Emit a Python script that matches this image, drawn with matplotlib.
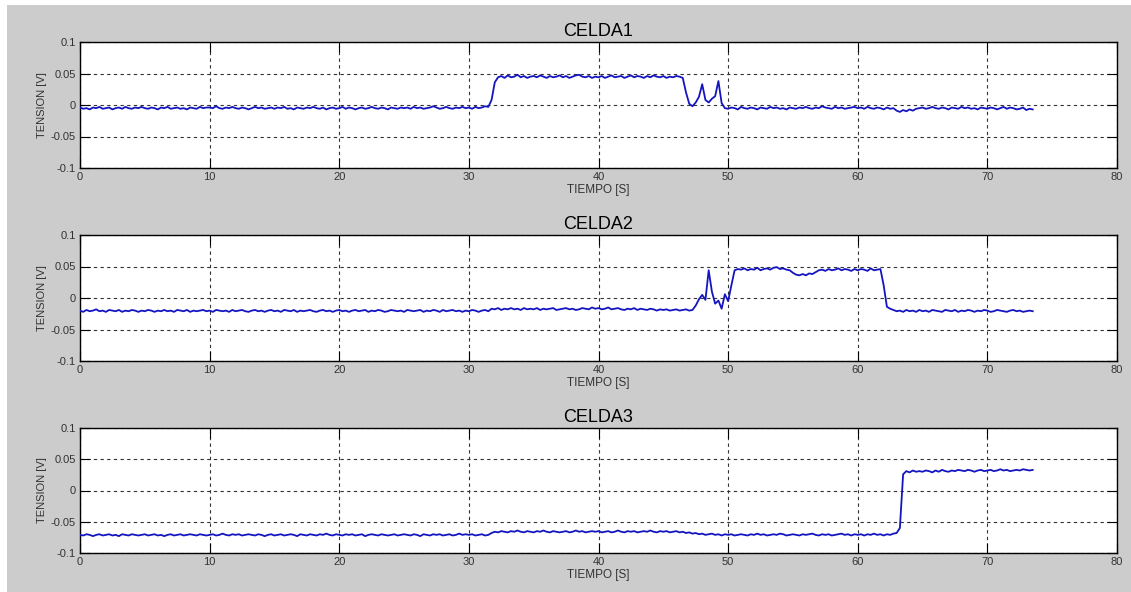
import numpy as np
import matplotlib
matplotlib.use('Agg')
from matplotlib import pyplot as plt
from matplotlib.patches import Rectangle

# tension per cell in mV, sampled every 0.25 s from 0 to 73.5 s
celda1 = [
    -4, -6, -5, -7, -4, -5, -3, -6, -5, -4, -7, -5, -4, -6, -3, -5, -6, -4, -5, -3,
    -5, -6, -4, -5, -7, -4, -5, -3, -6, -5, -4, -6, -5, -7, -4, -5, -6, -3, -5, -4,
    -4, -5, -2, -5, -6, -4, -5, -3, -5, -6, -4, -5, -7, -5, -3, -5, -4, -6, -5, -4,
    -6, -4, -5, -3, -6, -5, -7, -4, -5, -6, -4, -5, -3, -5, -6, -4, -7, -5, -4, -6,
    -5, -3, -6, -4, -5, -7, -5, -4, -6, -5, -3, -5, -6, -4, -5, -7, -4, -5, -6, -4,
    -5, -4, -6, -3, -5, -4, -6, -5, -4, -2, -4, -6, -5, -3, -5, -6, -4, -5, -3, -5,
    -4, -6, -3, -5, -4, -2, -3, 8, 36, 44, 46, 43, 47, 44, 45, 48, 44, 46, 43, 45,
    46, 44, 47, 45, 43, 46, 44, 45, 47, 44, 46, 43, 45, 47, 48, 45, 44, 46, 43, 45,
    44, 46, 43, 45, 47, 44, 45, 46, 43, 45, 47, 44, 46, 45, 43, 46, 44, 47, 45, 44,
    46, 43, 45, 44, 46, 45, 43, 20, 2, -2, 4, 13, 33, 8, 4, 10, 14, 38, 3, -5,
    -6, -4, -5, -7, -3, -5, -6, -4, -5, -7, -4, -5, -6, -3, -5, -4, -6, -5, -7, -4,
    -5, -6, -4, -5, -3, -5, -6, -4, -5, -2, -4, -5, -6, -3, -5, -4, -6, -5, -4, -3,
    -5, -4, -6, -3, -5, -6, -4, -5, -7, -4, -6, -5, -9, -11, -8, -10, -7, -9, -6, -5,
    -4, -6, -5, -3, -5, -6, -4, -5, -7, -4, -5, -6, -3, -5, -4, -6, -5, -7, -4, -5,
    -6, -4, -5, -7, -5, -3, -6, -4, -5, -7, -6, -4, -8, -6, -7,
]
celda2 = [
    -20, -22, -19, -21, -20, -18, -21, -20, -22, -19, -20, -21, -19, -22, -20, -21, -19, -20, -22, -20,
    -21, -19, -20, -22, -20, -21, -19, -21, -20, -22, -19, -20, -21, -19, -22, -20, -21, -20, -19, -21,
    -20, -22, -19, -20, -21, -20, -22, -19, -21, -20, -19, -21, -22, -20, -19, -21, -20, -22, -20, -19,
    -21, -20, -22, -19, -20, -21, -19, -22, -20, -21, -20, -19, -21, -22, -20, -19, -21, -20, -22, -20,
    -19, -21, -20, -22, -20, -19, -21, -20, -19, -22, -20, -21, -19, -20, -22, -21, -19, -20, -21, -20,
    -22, -19, -20, -21, -20, -19, -22, -20, -21, -19, -20, -22, -19, -21, -20, -19, -21, -20, -22, -20,
    -21, -19, -20, -22, -20, -19, -21, -17, -18, -16, -19, -17, -18, -16, -18, -17, -19, -16, -18, -17,
    -18, -16, -19, -17, -18, -17, -16, -19, -18, -17, -16, -18, -17, -19, -18, -16, -17, -18, -15, -17,
    -16, -18, -17, -15, -18, -17, -16, -18, -19, -17, -18, -16, -19, -17, -18, -19, -17, -18, -20, -18,
    -19, -18, -20, -19, -18, -20, -19, -18, -20, -19, -12, -2, 5, -3, 44, 10, -9, -4, -17, 6,
    -5, 20, 44, 46, 45, 47, 44, 46, 45, 48, 44, 46, 47, 45, 48, 49, 46, 47, 45, 44,
    40, 37, 36, 38, 36, 39, 38, 41, 44, 45, 43, 46, 44, 45, 47, 44, 46, 45, 43, 46,
    44, 46, 45, 43, 47, 44, 45, 46, 20, -14, -17, -19, -21, -20, -22, -19, -21, -20, -22, -19,
    -21, -20, -22, -19, -20, -21, -22, -19, -20, -21, -19, -22, -20, -21, -19, -20, -22, -20, -21, -19,
    -20, -22, -21, -19, -20, -21, -22, -20, -19, -21, -20, -22, -21, -20, -21,
]
celda3 = [
    -71, -72, -70, -71, -73, -71, -70, -72, -71, -70, -72, -71, -73, -70, -71, -72, -70, -71, -72, -71,
    -70, -72, -71, -70, -72, -71, -73, -71, -70, -72, -71, -70, -72, -71, -70, -71, -72, -70, -71, -72,
    -71, -70, -72, -71, -69, -71, -72, -70, -71, -70, -72, -71, -70, -71, -72, -70, -71, -73, -71, -70,
    -72, -71, -70, -72, -71, -70, -71, -73, -70, -71, -72, -70, -71, -72, -70, -71, -69, -71, -72, -70,
    -71, -72, -70, -71, -70, -72, -71, -70, -73, -71, -70, -71, -72, -70, -71, -72, -71, -70, -72, -71,
    -70, -71, -72, -70, -71, -73, -70, -71, -72, -70, -71, -70, -72, -71, -70, -72, -71, -69, -71, -70,
    -71, -70, -72, -71, -70, -72, -71, -68, -66, -67, -65, -66, -67, -65, -66, -64, -66, -67, -65, -66,
    -67, -65, -66, -64, -66, -67, -65, -66, -67, -66, -65, -67, -66, -64, -66, -65, -67, -66, -65, -66,
    -65, -67, -66, -65, -67, -66, -64, -66, -67, -65, -66, -65, -67, -66, -65, -66, -64, -66, -67, -65,
    -66, -65, -67, -66, -65, -67, -66, -68, -67, -69, -68, -70, -69, -71, -70, -69, -71, -70, -72, -70,
    -71, -70, -72, -71, -70, -71, -72, -70, -71, -69, -71, -70, -72, -71, -70, -71, -69, -70, -72, -71,
    -70, -71, -72, -70, -71, -70, -69, -71, -72, -70, -71, -70, -72, -71, -70, -69, -71, -70, -72, -70,
    -71, -70, -72, -70, -71, -69, -71, -70, -72, -70, -71, -69, -68, -60, 26, 31, 29, 32, 30, 31,
    30, 32, 31, 29, 32, 30, 33, 31, 30, 32, 31, 33, 32, 31, 33, 32, 30, 32, 33, 31,
    32, 33, 31, 32, 34, 32, 33, 31, 32, 33, 32, 34, 33, 32, 33,
]
titulos = ['CELDA1', 'CELDA2', 'CELDA3']
xticks = [0, 10, 20, 30, 40, 50, 60, 70, 80]
yticks = [-0.1, -0.05, 0, 0.05, 0.1]
yticklabels = ['-0.1', '-0.05', '0', '0.05', '0.1']

dt = 0.25
tiempo = np.arange(len(celda1)) * dt

plt.rcParams['font.family'] = ['Liberation Sans', 'DejaVu Sans']

fig = plt.figure(figsize=(11.31, 5.92), dpi=100, facecolor='white')
# grey figure panel, leaving a thin white strip top and left
fig.patches.append(Rectangle((7 / 1131, 0), 1, 1 - 5 / 592, transform=fig.transFigure,
                             facecolor='#cccccc', edgecolor='none', zorder=-10))

tops = [42, 235, 428]
bottoms = [168, 361, 553]
W, H = 1131.0, 592.0

for i, datos in enumerate([celda1, celda2, celda3]):
    ax = fig.add_axes([80 / W, 1 - bottoms[i] / H, (1117 - 80) / W, (bottoms[i] - tops[i]) / H])
    ax.set_facecolor('white')
    v = np.array(datos) / 1000.0
    ax.plot(tiempo, v, color='#1414c0', linewidth=1.3, zorder=3)
    ax.set_xlim(0, 80)
    ax.set_ylim(-0.1, 0.1)
    ax.set_xticks(xticks)
    ax.set_yticks(yticks)
    ax.set_yticklabels(yticklabels)
    ax.grid(True, color='#333333', linestyle=(0, (3, 3)), linewidth=0.8)
    ax.tick_params(direction='in', length=7.2, width=0.8, top=True, right=True,
                   labelsize=8, pad=3, colors='black', labelcolor='#333333')
    for s in ax.spines.values():
        s.set_linewidth(1.0)
        s.set_color('black')
    ax.set_title(titulos[i], fontsize=13, pad=4)
    ax.set_xlabel('TIEMPO [S]', fontsize=8.5, labelpad=1, color='#333333')
    ax.set_ylabel('TENSION [V]', fontsize=8, labelpad=3, color='#333333')

fig.savefig('out.png', dpi=100, facecolor=fig.get_facecolor())
